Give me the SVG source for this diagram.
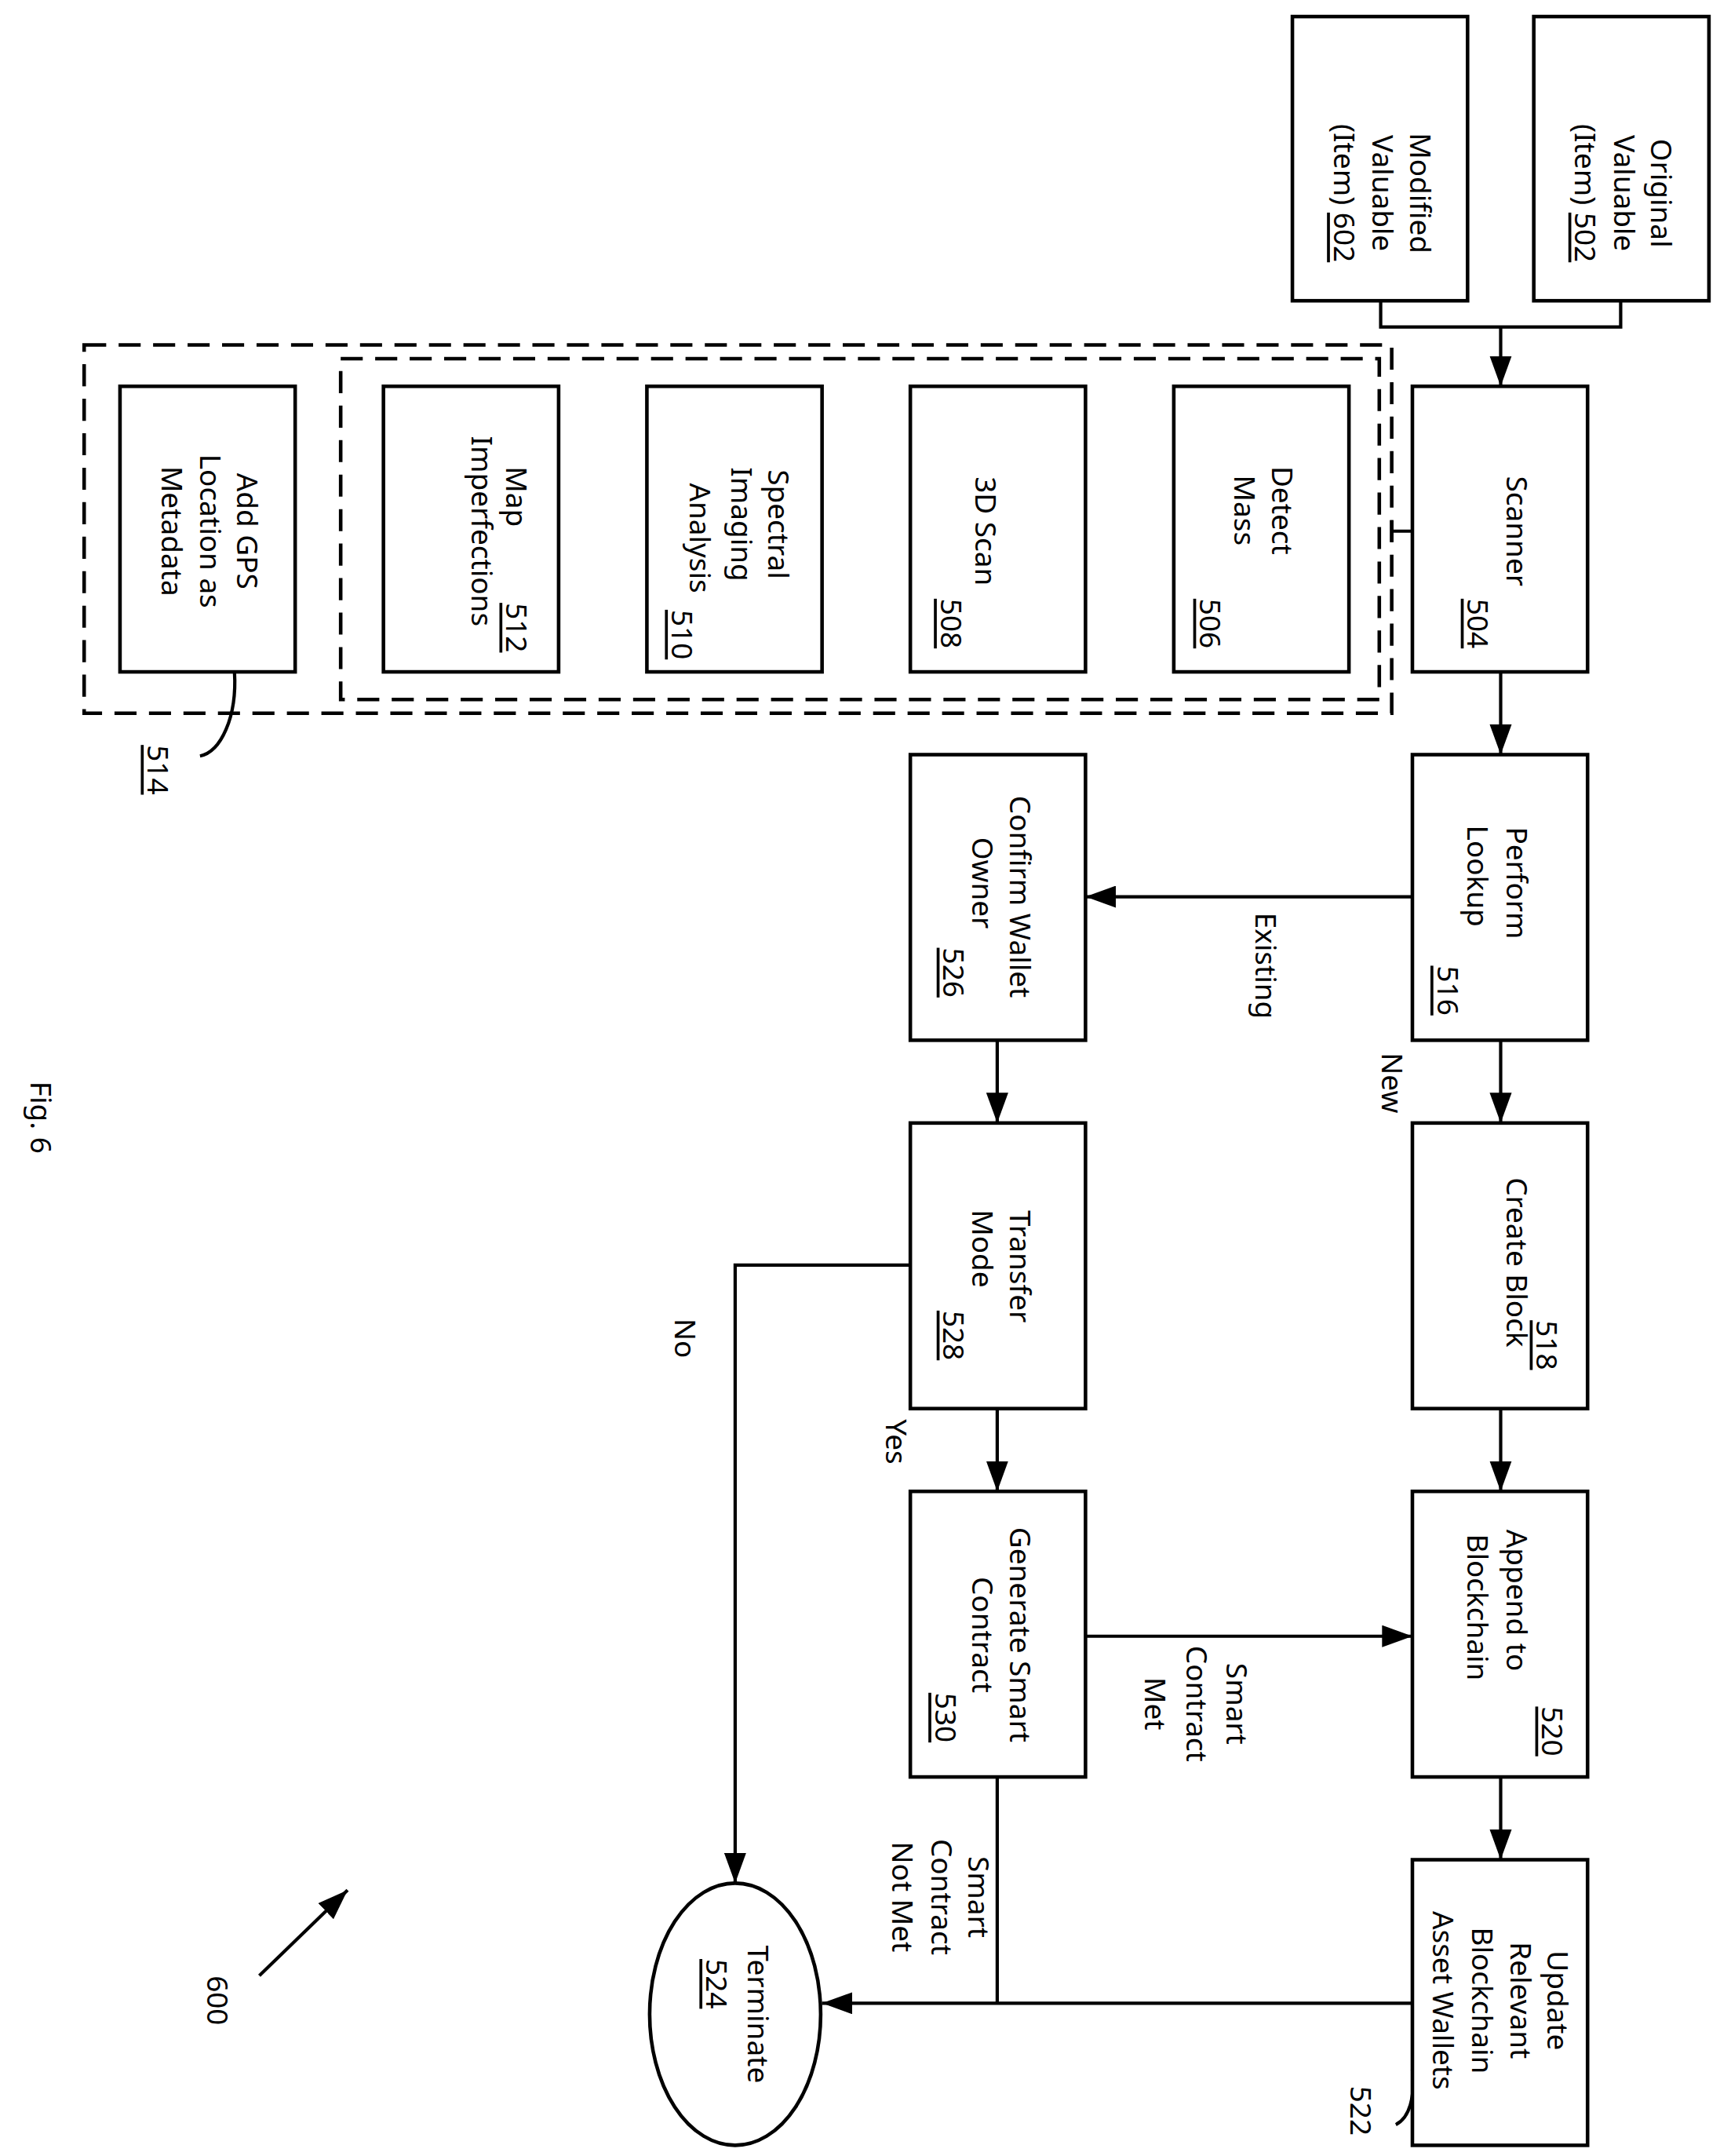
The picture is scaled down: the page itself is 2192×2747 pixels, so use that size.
<svg xmlns="http://www.w3.org/2000/svg" width="2192" height="2747" viewBox="0 0 2192 2747">
<style>
.b{fill:#fff;stroke:#000;stroke-width:2.6}
.c{fill:none;stroke:#000;stroke-width:2.4}
.d{fill:none;stroke:#000;stroke-width:2.6;stroke-dasharray:16 9}
text{font-family:"Noto Sans","DejaVu Sans",sans-serif;font-size:21px;fill:#000;text-anchor:middle;dominant-baseline:central}
.u{text-decoration:underline}
</style>
<defs>
<marker id="ah" markerUnits="userSpaceOnUse" markerWidth="24" markerHeight="16" refX="22" refY="8" orient="auto"><path d="M0,0 L22,8 L0,16 Z" fill="#000"/></marker>
</defs>
<rect width="2192" height="2747" fill="#fff"/>
<g transform="scale(1.7578)">
<g id="connectors">
<path class="c" d="M1001,218 V237 H1175 V218"/>
<path class="c" d="M1088,237 V280" marker-end="url(#ah)"/>
<path class="c" d="M1024,385 H1009 M1009,377 V393"/>
<path class="c" d="M1088,487 V547" marker-end="url(#ah)"/>
<path class="c" d="M1024,650 H787" marker-end="url(#ah)"/>
<path class="c" d="M1088,754 V814" marker-end="url(#ah)"/>
<path class="c" d="M1088,1021 V1081" marker-end="url(#ah)"/>
<path class="c" d="M1088,1288 V1348" marker-end="url(#ah)"/>
<path class="c" d="M723,754 V814" marker-end="url(#ah)"/>
<path class="c" d="M723,1021 V1081" marker-end="url(#ah)"/>
<path class="c" d="M660,917 H533 V1365" marker-end="url(#ah)"/>
<path class="c" d="M787,1186 H1024" marker-end="url(#ah)"/>
<path class="c" d="M723,1288 V1452"/>
<path class="c" d="M1024,1452 H596" marker-end="url(#ah)"/>
<path class="c" d="M170,487 C172,520 160,545 145,548"/>
<path class="c" d="M1024,1500 C1026,1520 1022,1535 1012,1540"/>
<path class="c" d="M188,1432 L252,1370" marker-end="url(#ah)"/>
</g>
<g id="groups">
<rect class="d" x="61" y="250" width="948" height="267"/>
<rect class="d" x="247" y="260" width="753" height="247"/>
</g>
<g id="n602"><rect class="b" x="937" y="12" width="127" height="206"/>
<text transform="translate(1030,140) rotate(90)">Modified</text>
<text transform="translate(1003,140) rotate(90)">Valuable</text>
<text transform="translate(975,140) rotate(90)">(Item) <tspan class="u">602</tspan></text></g>
<g id="n502"><rect class="b" x="1112" y="12" width="127" height="206"/>
<text transform="translate(1205,140) rotate(90)">Original</text>
<text transform="translate(1178,140) rotate(90)">Valuable</text>
<text transform="translate(1150,140) rotate(90)">(Item) <tspan class="u">502</tspan></text></g>
<g id="n504"><rect class="b" x="1024" y="280" width="127" height="207"/>
<text transform="translate(1100,385) rotate(90)">Scanner</text>
<text class="u" transform="translate(1072,452) rotate(90)">504</text></g>
<g id="n506"><rect class="b" x="851" y="280" width="127" height="207"/>
<text transform="translate(930,370) rotate(90)">Detect</text>
<text transform="translate(903,370) rotate(90)">Mass</text>
<text class="u" transform="translate(878,452) rotate(90)">506</text></g>
<g id="n508"><rect class="b" x="660" y="280" width="127" height="207"/>
<text transform="translate(715,385) rotate(90)">3D Scan</text>
<text class="u" transform="translate(690,452) rotate(90)">508</text></g>
<g id="n510"><rect class="b" x="469" y="280" width="127" height="207"/>
<text transform="translate(565,380) rotate(90)">Spectral</text>
<text transform="translate(538,380) rotate(90)">Imaging</text>
<text transform="translate(508,390) rotate(90)">Analysis</text>
<text class="u" transform="translate(495,460) rotate(90)">510</text></g>
<g id="n512"><rect class="b" x="278" y="280" width="127" height="207"/>
<text transform="translate(375,360) rotate(90)">Map</text>
<text transform="translate(350,385) rotate(90)">Imperfections</text>
<text class="u" transform="translate(375,455) rotate(90)">512</text></g>
<g id="n514"><rect class="b" x="87" y="280" width="127" height="207"/>
<text transform="translate(180,385) rotate(90)">Add GPS</text>
<text transform="translate(153,385) rotate(90)">Location as</text>
<text transform="translate(125,385) rotate(90)">Metadata</text>
<text class="u" transform="translate(115,558) rotate(90)">514</text></g>
<g id="n516"><rect class="b" x="1024" y="547" width="127" height="207"/>
<text transform="translate(1100,640) rotate(90)">Perform</text>
<text transform="translate(1072,635) rotate(90)">Lookup</text>
<text class="u" transform="translate(1050,718) rotate(90)">516</text></g>
<g id="n526"><rect class="b" x="660" y="547" width="127" height="207"/>
<text transform="translate(740,650) rotate(90)">Confirm Wallet</text>
<text transform="translate(713,640) rotate(90)">Owner</text>
<text class="u" transform="translate(692,705) rotate(90)">526</text></g>
<g id="n518"><rect class="b" x="1024" y="814" width="127" height="207"/>
<text transform="translate(1100,915) rotate(90)">Create Block</text>
<text class="u" transform="translate(1122,975) rotate(90)">518</text></g>
<g id="n528"><rect class="b" x="660" y="814" width="127" height="207"/>
<text transform="translate(740,918) rotate(90)">Transfer</text>
<text transform="translate(713,905) rotate(90)">Mode</text>
<text class="u" transform="translate(692,968) rotate(90)">528</text></g>
<g id="n520"><rect class="b" x="1024" y="1081" width="127" height="207"/>
<text transform="translate(1100,1160) rotate(90)">Append to</text>
<text transform="translate(1072,1165) rotate(90)">Blockchain</text>
<text class="u" transform="translate(1126,1255) rotate(90)">520</text></g>
<g id="n530"><rect class="b" x="660" y="1081" width="127" height="207"/>
<text transform="translate(740,1185) rotate(90)">Generate Smart</text>
<text transform="translate(713,1185) rotate(90)">Contract</text>
<text class="u" transform="translate(686,1245) rotate(90)">530</text></g>
<g id="n522"><rect class="b" x="1024" y="1348" width="127" height="207"/>
<text transform="translate(1130,1450) rotate(90)">Update</text>
<text transform="translate(1103,1450) rotate(90)">Relevant</text>
<text transform="translate(1075,1450) rotate(90)">Blockchain</text>
<text transform="translate(1047,1450) rotate(90)">Asset Wallets</text>
<text transform="translate(987,1530) rotate(90)">522</text></g>
<g id="n524"><ellipse class="b" cx="533" cy="1460" rx="62" ry="95"/>
<text transform="translate(550,1460) rotate(90)">Terminate</text>
<text class="u" transform="translate(520,1438) rotate(90)">524</text></g>
<g id="labels">
<text transform="translate(918,700) rotate(90)">Existing</text>
<text transform="translate(1010,785) rotate(90)">New</text>
<text transform="translate(650,1045) rotate(90)">Yes</text>
<text transform="translate(497,970) rotate(90)">No</text>
<text transform="translate(897,1235) rotate(90)">Smart</text>
<text transform="translate(868,1235) rotate(90)">Contract</text>
<text transform="translate(838,1235) rotate(90)">Met</text>
<text transform="translate(710,1375) rotate(90)">Smart</text>
<text transform="translate(683,1375) rotate(90)">Contract</text>
<text transform="translate(655,1375) rotate(90)">Not Met</text>
<text transform="translate(30,810) rotate(90)">Fig. 6</text>
<text transform="translate(158,1450) rotate(90)">600</text>
</g>
</g>
</svg>
